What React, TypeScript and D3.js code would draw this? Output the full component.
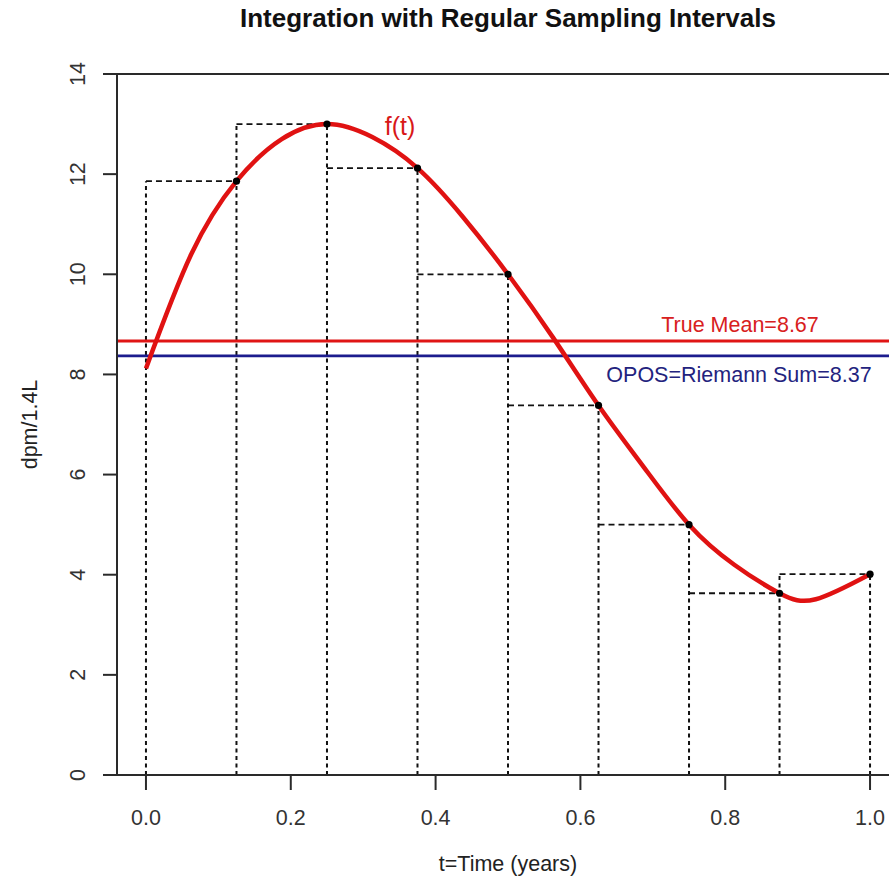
import React from "react";
import * as d3 from "d3";

// ---- data ----
const sampleT = [0, 0.125, 0.25, 0.375, 0.5, 0.625, 0.75, 0.875, 1.0];
const sampleV = [8.12, 11.86, 13.0, 12.12, 10.0, 7.38, 5.0, 3.63, 4.01];

const curveT = [0, 0.0625, 0.125, 0.1875, 0.25, 0.3125, 0.375, 0.4375, 0.5, 0.5625, 0.625, 0.6875, 0.75, 0.8125, 0.875, 0.925, 1.0];
const curveV = [8.12, 10.4, 11.86, 12.7, 13.0, 12.74, 12.12, 11.15, 10.0, 8.73, 7.38, 6.15, 5.0, 4.2, 3.63, 3.51, 4.01];

const trueMean = 8.67;
const riemannSum = 8.37;

const xTicks = [0, 0.2, 0.4, 0.6, 0.8, 1.0];
const xTickLabels = ["0.0", "0.2", "0.4", "0.6", "0.8", "1.0"];
const yTicks = [0, 2, 4, 6, 8, 10, 12, 14];
const yTickLabels = ["0", "2", "4", "6", "8", "10", "12", "14"];

const title = "Integration with Regular Sampling Intervals";
const xLabel = "t=Time (years)";
const yLabel = "dpm/1.4L";

export default function App() {
  const W = 889, H = 884;
  const left = 117, right = 899, top = 74, bottom = 775;
  const x = d3.scaleLinear().domain([-0.04, 1.04]).range([left, right]);
  const y = d3.scaleLinear().domain([0, 14]).range([bottom, top]);
  const font = "'Liberation Sans', Arial, Helvetica, sans-serif";
  const axisCol = "#2a2a2a";

  const curvePts: [number, number][] = curveT.map((t, i) => [t, curveV[i]]);
  const line = d3
    .line<[number, number]>()
    .x((d) => x(d[0]))
    .y((d) => y(d[1]))
    .curve(d3.curveNatural);

  // right-endpoint Riemann rectangles: tops, and vertical edges (drawn once each)
  const nRect = sampleT.length - 1;
  const rectH = (i: number) => sampleV[i + 1];
  const tops = sampleT.slice(0, -1).map((t0, i) => ({ x0: t0, x1: sampleT[i + 1], h: rectH(i) }));
  const verts = sampleT.map((t, i) => {
    const hl = i > 0 ? rectH(i - 1) : 0;
    const hr = i < nRect ? rectH(i) : 0;
    return { t, h: Math.max(hl, hr) };
  });

  return (
    <svg
      width={W}
      height={H}
      style={{ position: "absolute", left: 0, top: 0, background: "#fff" }}
      fontFamily={font}
    >
      <defs>
        <clipPath id="plotClip">
          <rect x={left} y={top} width={right - left} height={bottom - top} />
        </clipPath>
      </defs>

      <text x={(left + right) / 2} y={27} textAnchor="middle" fontSize={26} fontWeight="bold" fill="#111">
        {title}
      </text>

      <g clipPath="url(#plotClip)">
        {verts.map((v, i) => (
          <line key={"v" + i} x1={x(v.t)} x2={x(v.t)} y1={y(0)} y2={y(v.h)} stroke="#111" strokeWidth={2} strokeDasharray="4,3.5" />
        ))}
        {tops.map((r, i) => (
          <line key={"h" + i} x1={x(r.x0)} x2={x(r.x1)} y1={y(r.h)} y2={y(r.h)} stroke="#111" strokeWidth={1.8} strokeDasharray="6,4" />
        ))}
        <line x1={left} x2={right} y1={y(trueMean)} y2={y(trueMean)} stroke="#e01515" strokeWidth={3} />
        <line x1={left} x2={right} y1={y(riemannSum)} y2={y(riemannSum)} stroke="#1c1c8e" strokeWidth={2.6} />
        <path d={line(curvePts) || ""} fill="none" stroke="#e01212" strokeWidth={4.5} />
        {sampleT.slice(1).map((t, i) => (
          <circle key={i} cx={x(t)} cy={y(sampleV[i + 1])} r={3.6} fill="#000" />
        ))}
      </g>

      <text x={400} y={135} textAnchor="middle" fontSize={25} fill="#d81818">f(t)</text>
      <text x={740} y={332} textAnchor="middle" fontSize={21.5} fill="#d82020">
        True Mean={trueMean.toFixed(2)}
      </text>
      <text x={739} y={382} textAnchor="middle" fontSize={21.5} fill="#23237e">
        OPOS=Riemann Sum={riemannSum.toFixed(2)}
      </text>

      {/* box */}
      <rect x={left} y={top} width={right - left} height={bottom - top} fill="none" stroke={axisCol} strokeWidth={2} />

      {/* x axis */}
      {xTicks.map((t, i) => (
        <g key={i}>
          <line x1={x(t)} x2={x(t)} y1={bottom} y2={bottom + 15} stroke={axisCol} strokeWidth={2} />
          <text x={x(t)} y={825} textAnchor="middle" fontSize={21.5} fill="#333">
            {xTickLabels[i]}
          </text>
        </g>
      ))}

      {/* y axis */}
      {yTicks.map((v, i) => (
        <g key={i}>
          <line x1={left - 14} x2={left} y1={y(v)} y2={y(v)} stroke={axisCol} strokeWidth={2} />
          <text
            transform={`translate(85,${y(v)}) rotate(-90)`}
            textAnchor="middle"
            fontSize={21.5}
            fill="#333"
          >
            {yTickLabels[i]}
          </text>
        </g>
      ))}

      <text x={(left + right) / 2} y={871} textAnchor="middle" fontSize={21.5} fill="#222">
        {xLabel}
      </text>
      <text transform={`translate(37,${(top + bottom) / 2}) rotate(-90)`} textAnchor="middle" fontSize={21.5} fill="#222">
        {yLabel}
      </text>
    </svg>
  );
}
